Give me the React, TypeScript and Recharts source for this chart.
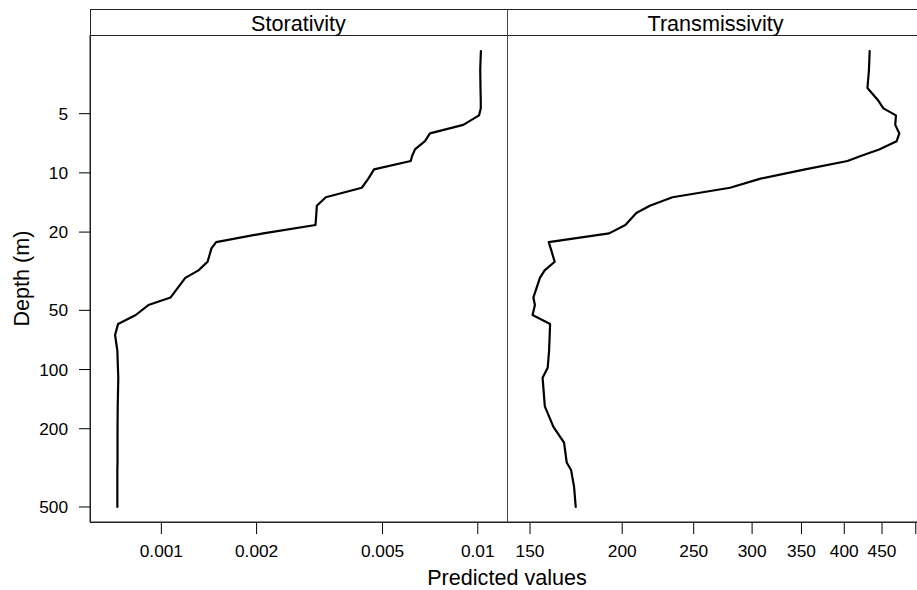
import { ScatterChart, Scatter, XAxis, YAxis } from "recharts";

// depths (m) shared by both panels
const depth = [
  2.4, 3.0, 3.7, 4.3, 4.7, 5.1, 5.7, 6.3, 6.9, 7.6, 8.2, 8.7, 9.6, 10.7, 11.9,
  13.3, 14.7, 16, 18.4, 20.3, 22.5, 24.2, 28.3, 31.3, 34.2, 43, 47, 52.8, 58.6,
  66.7, 80, 98, 110, 154, 195, 235, 297, 324, 394, 500,
];

const storativity = [
  0.01023, 0.01018, 0.0102, 0.01022, 0.01022, 0.01009, 0.009, 0.00706, 0.00681,
  0.00633, 0.0062, 0.00614, 0.0047, 0.00451, 0.0043, 0.00331, 0.0031, 0.00309,
  0.00307, 0.0021, 0.00149, 0.00144, 0.0014, 0.00131, 0.00119, 0.00107, 0.00091,
  0.00083, 0.00073, 0.000714, 0.000726, 0.000729, 0.000731, 0.000728, 0.000727,
  0.000727, 0.000727, 0.000726, 0.000726, 0.000726,
];

const transmissivity = [
  433, 432, 430, 445, 452, 470, 469, 475, 471, 446, 421, 404, 354, 308, 280, 234,
  218, 209, 202, 192, 159, 160, 162, 157, 154.7, 151.6, 152.3, 151.2, 159.7,
  159.5, 159.2, 158.5, 156, 157.1, 161.3, 166.8, 168.2, 170.5, 172.1, 173,
];

const depthTicks = [5, 10, 20, 50, 100, 200, 500];
const storTicks = [0.001, 0.002, 0.005, 0.01];
const transTicks = [150, 200, 250, 300, 350, 400, 450, 500];

const storData = depth.map((d, i) => ({ depth: d, value: storativity[i] }));
const transData = depth.map((d, i) => ({ depth: d, value: transmissivity[i] }));

const FONT = "'Liberation Sans', Arial, sans-serif";
const tickStyle = { fill: "#000", fontSize: 17.3, fontFamily: FONT };
const depthDomain = [1.99, 596];
const lineStyle = {
  stroke: "#000",
  strokeWidth: 2.2,
  strokeLinejoin: "round" as const,
  strokeLinecap: "round" as const,
};

const noDot = () => <g />;

export default function App() {
  return (
    <div
      style={{
        position: "absolute",
        left: 0,
        top: 0,
        width: 917,
        height: 590,
        overflow: "hidden",
        background: "#fff",
        fontFamily: FONT,
      }}
    >
      <div style={{ position: "absolute", left: 0, top: 0 }}>
        <ScatterChart
          width={507}
          height={590}
          margin={{ top: 35, right: 0, bottom: 38, left: 0 }}
        >
          <XAxis
            type="number"
            dataKey="value"
            scale="log"
            domain={[0.000595, 0.01237]}
            allowDataOverflow
            ticks={storTicks}
            tickFormatter={(v) => String(v)}
            height={30}
            tickSize={12}
            tickMargin={11}
            tick={tickStyle}
            tickLine={{ stroke: "#000" }}
            axisLine={{ stroke: "#222" }}
          />
          <YAxis
            type="number"
            dataKey="depth"
            scale="log"
            domain={depthDomain}
            allowDataOverflow
            reversed
            ticks={depthTicks}
            width={90}
            tickSize={11}
            tickMargin={11}
            tick={tickStyle}
            tickLine={{ stroke: "#000" }}
            axisLine={{ stroke: "#222" }}
          />
          <Scatter
            data={storData}
            line={lineStyle}
            lineType="joint"
            shape={noDot}
            isAnimationActive={false}
          />
        </ScatterChart>
      </div>
      <div style={{ position: "absolute", left: 507, top: 0 }}>
        <ScatterChart
          width={417}
          height={590}
          margin={{ top: 35, right: 0, bottom: 38, left: 0 }}
        >
          <XAxis
            type="number"
            dataKey="value"
            scale="log"
            domain={[139.6, 513]}
            allowDataOverflow
            ticks={transTicks}
            tickFormatter={(v) => (v === 500 ? "" : String(v))}
            height={30}
            tickSize={12}
            tickMargin={11}
            tick={tickStyle}
            tickLine={{ stroke: "#000" }}
            axisLine={{ stroke: "#222" }}
          />
          <YAxis
            type="number"
            dataKey="depth"
            scale="log"
            domain={depthDomain}
            allowDataOverflow
            reversed
            hide
          />
          <Scatter
            data={transData}
            line={lineStyle}
            lineType="joint"
            shape={noDot}
            isAnimationActive={false}
          />
        </ScatterChart>
      </div>
      {/* panel frame, strips and axis titles */}
      <svg
        width={917}
        height={590}
        style={{ position: "absolute", left: 0, top: 0, pointerEvents: "none" }}
      >
        <rect x={90.5} y={9.5} width={834} height={513} fill="none" stroke="#222" />
        <line x1={90} y1={35.5} x2={924} y2={35.5} stroke="#222" />
        <line x1={507.5} y1={9} x2={507.5} y2={522} stroke="#444" />
        <text x={298.5} y={31} textAnchor="middle" fontSize={21.6} fontFamily={FONT} fill="#000">
          Storativity
        </text>
        <text x={715.5} y={31} textAnchor="middle" fontSize={21.6} fontFamily={FONT} fill="#000">
          Transmissivity
        </text>
        <text x={507} y={585} textAnchor="middle" fontSize={21.6} fontFamily={FONT} fill="#000">
          Predicted values
        </text>
        <text
          transform="translate(28.5, 278.5) rotate(-90)"
          textAnchor="middle"
          fontSize={21.6}
          fontFamily={FONT}
          fill="#000"
        >
          Depth (m)
        </text>
      </svg>
    </div>
  );
}
